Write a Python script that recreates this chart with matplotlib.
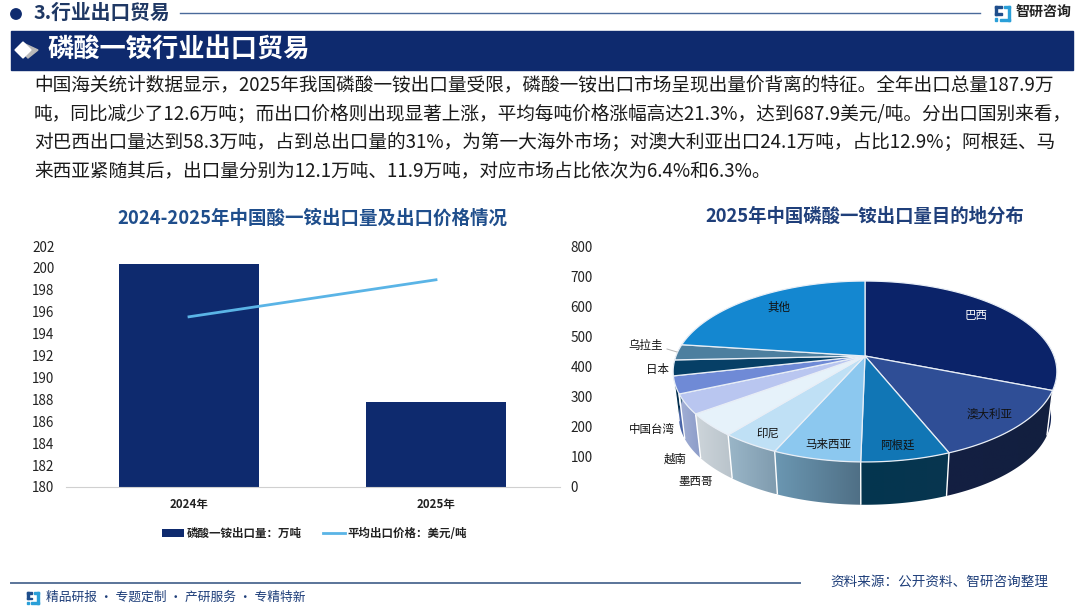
import numpy as np
import matplotlib
matplotlib.use("Agg")
import matplotlib.pyplot as plt
from matplotlib.patches import Polygon, Rectangle, Circle

plt.rcParams['font.family'] = ['Noto Sans CJK SC', 'DejaVu Sans']

# ---------- data ----------
years = ['2024年', '2025年']
export_volume = [200.4, 187.8]
export_price = [565.0, 687.9]
left_ticks = list(range(180, 203, 2))
right_ticks = list(range(0, 801, 100))

regions = ['巴西', '澳大利亚', '阿根廷', '马来西亚', '印尼', '墨西哥', '越南', '中国台湾', '日本', '乌拉圭', '其他']
shares = [31.0, 12.9, 6.4, 6.3, 4.2, 4.1, 3.5, 3.1, 2.8, 2.8, 22.9]

body_lines = [
    '中国海关统计数据显示，2025年我国磷酸一铵出口量受限，磷酸一铵出口市场呈现出量价背离的特征。全年出口总量187.9万',
    '吨，同比减少了12.6万吨；而出口价格则出现显著上涨，平均每吨价格涨幅高达21.3%，达到687.9美元/吨。分出口国别来看，',
    '对巴西出口量达到58.3万吨，占到总出口量的31%，为第一大海外市场；对澳大利亚出口24.1万吨，占比12.9%；阿根廷、马',
    '来西亚紧随其后，出口量分别为12.1万吨、11.9万吨，对应市场占比依次为6.4%和6.3%。',
]

# ---------- styles ----------
W, H = 1080, 607
NAVY = '#0e2a6e'
top_colors = ['#0b2369', '#2f4e96', '#1176b5', '#8cc8ef', '#bfe0f5', '#e6f2fa',
              '#b9c6f0', '#6f8ad6', '#063f66', '#4d7f9f', '#1487d0']
side_left = ['#0e1f4e', '#141f42', '#04354f', '#6b97b2', '#9ab6c8', '#cdd5da',
             '#a3b0d6', '#5a78bd', '#04304f', '#3d6680', '#0f6aa5']
side_right = ['#0e1f4e', '#121f3f', '#08364f', '#4f6f85', '#7f9bae', '#b9c3cb',
              '#8c9cc8', '#46609f', '#04304f', '#3d6680', '#0f6aa5']
label_xy = [(976, 315), (990, 414), (897, 445), (828, 444), (768, 433), (696, 481),
            (675, 459), (652, 430), (658, 370), (646, 345), (779, 307)]
label_col = ['white'] + ['#111111'] * 10


def px(n):
    return n * 0.72


fig = plt.figure(figsize=(W / 100, H / 100), dpi=100, facecolor='white')

# canvas axes in pixel coordinates
bg = fig.add_axes([0, 0, 1, 1])
bg.axis('off')


def draw_logo(ax, x, y, s, c1='#1f4e8c', c2='#2a9fd8'):
    ax.add_patch(Rectangle((x, y), s * .45, s * .16, color=c1))
    ax.add_patch(Rectangle((x, y), s * .16, s * .62, color=c1))
    ax.add_patch(Rectangle((x, y + s * .46), s * .45, s * .16, color=c1))
    ax.add_patch(Rectangle((x, y + s * .8), s * .16, s * .2, color=c2))
    ax.add_patch(Rectangle((x + s * .6, y), s * .4, s * .16, color=c2))
    ax.add_patch(Rectangle((x + s * .84, y), s * .16, s, color=c2))
    ax.add_patch(Rectangle((x + s * .35, y + s * .84), s * .65, s * .16, color=c2))


# header
bg.add_patch(Circle((16, 14), 5.2, color=NAVY))
bg.text(34, 13, '3.行业出口贸易', fontsize=px(19.8), fontweight='bold', color='#1f3864', va='center')
bg.plot([180, 980], [13, 13], color='#4a6a9a', lw=1)
draw_logo(bg, 995, 6, 15)
bg.text(1016, 11.5, '智研咨询', fontsize=px(14), fontweight='bold', color='#222222', va='center')

# banner
bg.add_patch(Rectangle((11, 31), 1062, 38.5, color=NAVY))
bg.add_patch(Polygon([(23, 43), (38, 50), (28, 58), (20, 50)], color='#b9b9b9'))
bg.add_patch(Polygon([(23, 42), (31, 50), (23, 58), (15, 50)], color='white'))
bg.text(47, 50, '磷酸一铵行业出口贸易', fontsize=px(26.3), fontweight='bold', color='white', va='center')

# body
for yy, line in zip([85, 114, 142, 171], body_lines):
    bg.text(34, yy, line, fontsize=px(18.7), color='#1a1a1a', va='center')

# chart titles
bg.text(312, 218, '2024-2025年中国酸一铵出口量及出口价格情况', fontsize=px(18.5), fontweight='bold',
        color='#1f4e8c', ha='center', va='center')
bg.text(865, 216, '2025年中国磷酸一铵出口量目的地分布', fontsize=px(18.4), fontweight='bold',
        color='#1f3f7a', ha='center', va='center')

# footer
bg.plot([11, 800], [582.5, 582.5], color='#5a7499', lw=1.4)
bg.text(830, 581.5, '资料来源：公开资料、智研咨询整理', fontsize=px(13.6), color='#1f3f7a', va='center')
draw_logo(bg, 27, 592, 12)
bg.text(46, 597.5, '精品研报 · 专题定制 · 产研服务 · 专精特新', fontsize=px(12.8), color='#1f3f7a', va='center')

# ---------- bar + line chart ----------
ax = fig.add_axes([65.5 / W, 1 - 487 / H, 494 / W, 241 / H])
x = np.arange(len(years))
bars = ax.bar(x, export_volume, width=0.57, color='#0e2a6e', label='磷酸一铵出口量：万吨')
ax.set_xlim(-0.5, 1.5)
ax.set_ylim(180, 202)
ax.set_xticks(x, years)
ax.set_yticks(left_ticks)
ax.tick_params(axis='both', length=0, labelsize=px(13.5), labelcolor='#222222')
ax.tick_params(axis='x', labelsize=px(11.5), pad=8)
ax.tick_params(axis='y', pad=8)
for s in ['top', 'left', 'right']:
    ax.spines[s].set_visible(False)
ax.spines['bottom'].set_color('#d0d0d0')

ax2 = ax.twinx()
line, = ax2.plot(x, export_price, color='#5ab4e6', lw=2.0, label='平均出口价格：美元/吨')
ax2.set_ylim(0, 800)
ax2.set_yticks(right_ticks)
ax2.tick_params(axis='y', length=0, labelsize=px(13.5), labelcolor='#222222', pad=8)
for s in ['top', 'left', 'right', 'bottom']:
    ax2.spines[s].set_visible(False)

for lab in list(ax.get_yticklabels()) + list(ax2.get_yticklabels()):
    lab.set_fontweight('medium')
for lab in ax.get_xticklabels():
    lab.set_fontweight('bold')
ax.legend([bars, line], [bars.get_label(), line.get_label()], ncol=2, frameon=False,
          loc='center', bbox_to_anchor=(0.504, -0.193),
          prop={'size': px(11.5), 'weight': 'bold'}, labelcolor='#222222',
          handlelength=1.9, handletextpad=0.25, columnspacing=1.85, handleheight=0.7)

# ---------- perspective pie (projected disc, drawn on canvas axes) ----------
CX = 865
A, B, K = 189.0, 87.8, 0.1713


def project(theta, r=1.0, cy=356.0, scale=1.0):
    """theta clockwise from the back of the disc (radians)."""
    dx = r * np.sin(theta)
    dy = r * np.cos(theta)
    w = 1 + K * dy
    return CX + scale * A * dx / w, cy - scale * B * dy / w


cum = np.concatenate([[0], np.cumsum(shares)]) / np.sum(shares) * 2 * np.pi
BOT_CY, BOT_SCALE = 402.0, 0.97

# side wall with horizontal shading
for i in range(len(shares)):
    th = np.linspace(cum[i], cum[i + 1], 80)
    th = th[np.cos(th) < 0.25]
    if len(th) < 2:
        continue
    xt, yt = project(th)
    xb, yb = project(th, cy=BOT_CY, scale=BOT_SCALE)
    poly = Polygon(list(zip(xt, yt)) + list(zip(xb[::-1], yb[::-1])), facecolor='none',
                   edgecolor='none', transform=bg.transData)
    bg.add_patch(poly)
    c0 = matplotlib.colors.to_rgb(side_left[i])
    c1 = matplotlib.colors.to_rgb(side_right[i])
    ramp = np.linspace(c0, c1, 64)[np.newaxis, :, :]
    xs_all = np.concatenate([xt, xb])
    ys_all = np.concatenate([yt, yb])
    im = bg.imshow(ramp, extent=(xs_all.min(), xs_all.max(), ys_all.max(), ys_all.min()),
                   aspect='auto', zorder=3, interpolation='bilinear')
    im.set_clip_path(poly)

for i in range(len(shares)):
    t = cum[i]
    if np.cos(t) < 0.0:
        xt, yt = project(t)
        xb, yb = project(t, cy=BOT_CY, scale=BOT_SCALE)
        bg.plot([xt, xb], [yt, yb], color='white', lw=1.0, zorder=4, solid_capstyle='butt')

# top face
for i in range(len(shares)):
    th = np.linspace(cum[i], cum[i + 1], 60)
    xs, ys = project(th)
    pts = [(CX, 356.0)] + list(zip(xs, ys))
    bg.add_patch(Polygon(pts, closed=True, facecolor=top_colors[i], edgecolor='#e8eef6', lw=0.9,
                         joinstyle='round', zorder=5))

for name, (lx, ly), c in zip(regions, label_xy, label_col):
    bg.text(lx, ly, name, fontsize=px(11.5), color=c, ha='center', va='center',
            fontweight='medium', zorder=7)
bg.plot([667, 677], [349, 352], color='#b5b5b5', lw=0.7, zorder=6)

bg.set_xlim(0, W)
bg.set_ylim(H, 0)

fig.savefig('out.png', dpi=100)
